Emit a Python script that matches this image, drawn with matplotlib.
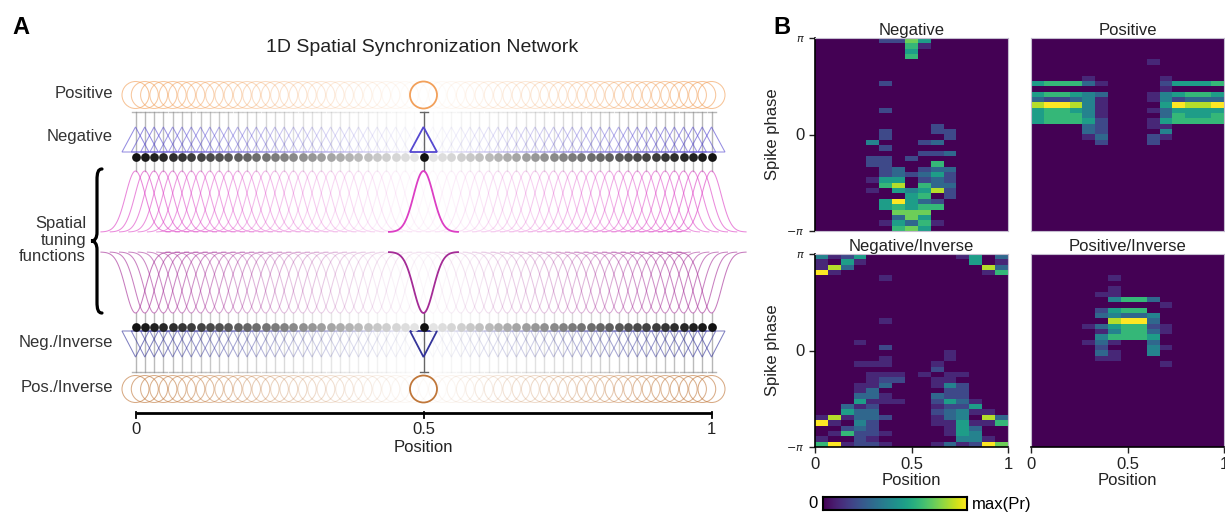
import matplotlib

matplotlib.use("Agg")
import matplotlib.pyplot as plt
import numpy as np
from matplotlib.patches import Ellipse, PathPatch, Polygon
from matplotlib.path import Path

plt.rcParams["font.family"] = ["Liberation Sans", "DejaVu Sans"]

FIG_W, FIG_H = 1225, 512

# ---- panel A: network schematic ----
N_CELLS = 63
CELL_POS = np.linspace(0.0, 1.0, N_CELLS)
FOCUS_POS = 0.5
TUNING_SIGMA = 0.017
TUNING_HALF_SPAN = 0.06
AXIS_TICKS = [0, 0.5, 1]
AXIS_TICK_LABELS = ["0", "0.5", "1"]

POS_COLOR = "#f2a05a"
NEG_COLOR = "#5548d0"
TUNE_COLOR = "#dc3ec4"
INV_TUNE_COLOR = "#a42b96"
NEGINV_COLOR = "#34349a"
POSINV_COLOR = "#c0773a"
STEM_COLOR = "#8a8a8a"

# ---- panel B: spike phase histograms (15 position bins x 36 phase bins, top row = +pi) ----
# digit d -> d/9 of max(Pr), '.' -> 0
NEGATIVE = [
    ".....2275......",
    ".......61......",
    ".......5.......",
    ".......6.......",
    "...............",
    "...............",
    "...............",
    "...............",
    ".....2.........",
    "...............",
    "...............",
    "...............",
    "...............",
    ".....2.........",
    "...............",
    "...............",
    ".........2.....",
    ".....2...22....",
    ".....2....2....",
    "....4...23.....",
    ".....2.........",
    "........223....",
    "....22.2.......",
    "....22...6.....",
    ".....23.233....",
    ".....232352....",
    "....155.232....",
    ".....68.633....",
    "....1.54582....",
    ".......56.2....",
    ".....59532.....",
    ".....56566.....",
    "......777......",
    "......375......",
    ".....15361.....",
    "......675......",
]
POSITIVE = [
    "...............",
    "...............",
    "...............",
    "...............",
    ".........1.....",
    "...............",
    "...............",
    "....1.....1....",
    "566631....25556",
    "..........1....",
    "566543...145665",
    "322341...142333",
    "899841....59889",
    "566541...135555",
    "566641....36556",
    "566652...156666",
    "....32...11....",
    "....32....4....",
    "....13...21....",
    ".....2...2.....",
    "...............",
    "...............",
    "...............",
    "...............",
    "...............",
    "...............",
    "...............",
    "...............",
    "...............",
    "...............",
    "...............",
    "...............",
    "...............",
    "...............",
    "...............",
    "...............",
]
NEG_INVERSE = [
    "4125.......15.3",
    "1.51........5.1",
    "183..........83",
    "91...........16",
    ".....1.........",
    "...............",
    "...............",
    "...............",
    "...............",
    "...............",
    "...............",
    "...............",
    ".....1.........",
    "...............",
    "...............",
    "...............",
    "...1...........",
    ".....2.........",
    "..........1....",
    ".....1....1....",
    "...111...1.....",
    ".........2.....",
    "....111.1.11...",
    "....122..11....",
    "...113...142...",
    "...13.....22...",
    "...331...322...",
    "...5111..2531..",
    "..312....1225..",
    "..533....23411.",
    "181332...134.83",
    "91.42....115116",
    "..232.....153..",
    ".16221....154..",
    "1..21......441.",
    "691221...131297",
]
POS_INVERSE = [
    "...............",
    "...............",
    "...............",
    "...............",
    "......1........",
    "...............",
    "......1........",
    ".....11........",
    "......4663.....",
    "..........1....",
    ".....2566......",
    ".....34334.....",
    "......8993.....",
    "....1356621....",
    ".....146631....",
    ".....46665.....",
    "....131..3.....",
    ".....2...41....",
    ".....31..4.....",
    ".....11........",
    "..........1....",
    "...............",
    "...............",
    "...............",
    "...............",
    "...............",
    "...............",
    "...............",
    "...............",
    "...............",
    "...............",
    "...............",
    "...............",
    "...............",
    "...............",
    "...............",
]
PHASE_TICKS = [-np.pi, 0, np.pi]
PHASE_TICK_LABELS = [r"$-\pi$", "0", r"$\pi$"]
POS_TICKS = [0, 0.5, 1]
POS_TICK_LABELS = ["0", "0.5", "1"]

# pixel mapping for the schematic axes
X0 = 135.5
SCALE = 576.0


def px_rect(left, top, right, bottom):
    return [left / FIG_W, 1 - bottom / FIG_H, (right - left) / FIG_W, (bottom - top) / FIG_H]


def px_x(px):
    return (px - X0) / SCALE


def decode(rows):
    return np.array([[0.0 if ch == "." else int(ch) / 9.0 for ch in row] for row in rows])


def draw_cell(ax, x, a, hl):
    lw = 1.3 if hl else 0.75
    alpha = 1.0 if hl else 0.02 + 0.6 * a
    stem_alpha = 1.0 if hl else 0.02 + 0.6 * a
    stem_col = "#666666" if hl else STEM_COLOR
    d = 27 / SCALE
    hw = 13.5 / SCALE
    cap = 4 / SCALE
    g_lvl = 0.07 if hl else 0.92 - 0.85 * a
    dot_col = (g_lvl, g_lvl, g_lvl)

    ax.add_patch(Ellipse((x, 95), d, 27, fill=False, ec=POS_COLOR, lw=lw, alpha=alpha))
    ax.plot([x, x], [112, 157], color=stem_col, lw=1.0, alpha=stem_alpha, zorder=1)
    ax.plot([x - cap, x + cap], [112, 112], color=stem_col, lw=1.0, alpha=stem_alpha, zorder=1)
    ax.add_patch(Polygon([(x - hw, 152), (x + hw, 152), (x, 127)], closed=True, fill=False,
                         ec=NEG_COLOR, lw=lw, alpha=alpha, zorder=2))
    ax.plot([x, x], [157, 171], color=stem_col, lw=1.0, alpha=stem_alpha, zorder=1)

    xs = np.linspace(x - TUNING_HALF_SPAN, x + TUNING_HALF_SPAN, 90)
    g = np.exp(-((xs - x) ** 2) / (2 * TUNING_SIGMA ** 2))
    ax.plot(xs, 232 - 61 * g, color=TUNE_COLOR, lw=lw, alpha=alpha, zorder=2)
    ax.plot(xs, 252 + 61 * g, color=INV_TUNE_COLOR, lw=lw, alpha=alpha, zorder=2)

    ax.plot([x, x], [313, 372], color=stem_col, lw=1.0, alpha=stem_alpha, zorder=1)
    ax.plot([x - cap, x + cap], [372, 372], color=stem_col, lw=1.0, alpha=stem_alpha, zorder=1)
    ax.add_patch(Polygon([(x - hw, 331), (x + hw, 331), (x, 357)], closed=True, fill=False,
                         ec=NEGINV_COLOR, lw=lw, alpha=alpha, zorder=2))
    ax.add_patch(Ellipse((x, 389), d, 27, fill=False, ec=POSINV_COLOR, lw=lw, alpha=alpha))

    ax.plot([x], [157], "o", ms=6.3, color=dot_col, mec="none", zorder=4)
    ax.plot([x], [327], "o", ms=6.3, color=dot_col, mec="none", zorder=4)


def draw_network(fig):
    ax = fig.add_axes([0, 0, 760 / FIG_W, 1])
    ax.set_xlim(px_x(0), px_x(760))
    ax.set_ylim(FIG_H, 0)
    ax.axis("off")

    for x in CELL_POS:
        if np.isclose(x, FOCUS_POS):
            continue
        draw_cell(ax, x, abs(2 * x - 1), hl=False)
    draw_cell(ax, FOCUS_POS, 1.0, hl=True)

    ax.text(px_x(422), 47, "1D Spatial Synchronization Network", fontsize=14,
            ha="center", va="center", color="#222222")
    lab_x = px_x(113)
    for y, lab in [(94, "Positive"), (137, "Negative"), (343, "Neg./Inverse"), (388, "Pos./Inverse")]:
        ax.text(lab_x, y, lab, fontsize=12, ha="right", va="center", color="#333333")
    ax.text(px_x(86), 240, "Spatial\ntuning\nfunctions", fontsize=12, ha="right", va="center",
            multialignment="right", linespacing=1.1, color="#333333")

    # curly brace
    verts = [(102, 169), (98, 169), (97, 173), (97, 180), (97, 232),
             (97, 238), (95, 241), (91, 241), (95, 241), (97, 244), (97, 250),
             (97, 302), (97, 309), (98, 313), (102, 313)]
    codes = [Path.MOVETO, Path.CURVE4, Path.CURVE4, Path.CURVE4, Path.LINETO,
             Path.CURVE4, Path.CURVE4, Path.CURVE4, Path.CURVE4, Path.CURVE4, Path.CURVE4,
             Path.LINETO, Path.CURVE4, Path.CURVE4, Path.CURVE4]
    verts = [(px_x(vx), vy) for vx, vy in verts]
    ax.add_patch(PathPatch(Path(verts, codes), fill=False, lw=2.3, ec="black", capstyle="round"))

    # position axis
    ax.plot([0, 1], [413, 413], color="black", lw=2.0, solid_capstyle="butt")
    for t, lab in zip(AXIS_TICKS, AXIS_TICK_LABELS):
        ax.plot([t, t], [412, 418], color="black", lw=1.3)
        ax.text(t, 429, lab, fontsize=12, ha="center", va="center", color="#222222")
    ax.text(0.5, 448, "Position", fontsize=12, ha="center", va="center", color="#222222")

    fig.text(21 / FIG_W, 1 - 27 / FIG_H, "A", fontsize=17, fontweight="bold", ha="center", va="center")
    fig.text(782 / FIG_W, 1 - 27 / FIG_H, "B", fontsize=17, fontweight="bold", ha="center", va="center")


def draw_heatmap(fig, rect, rows, title, show_y, show_x):
    ax = fig.add_axes(rect)
    ax.imshow(decode(rows), cmap="viridis", vmin=0, vmax=1, aspect="auto",
              extent=(0, 1, -np.pi, np.pi), interpolation="nearest", origin="upper")
    ax.set_xlim(0, 1)
    ax.set_ylim(-np.pi, np.pi)
    for side in ["top", "right", "left", "bottom"]:
        ax.spines[side].set_color("#c4bccf")
        ax.spines[side].set_linewidth(0.8)
    ax.set_title(title, fontsize=12, pad=1.5, color="#222222")
    ax.tick_params(direction="out", length=4, width=1.0, colors="#222222")

    if show_y:
        ax.spines["left"].set_color("black")
        ax.spines["left"].set_linewidth(1.2)
        ax.set_yticks(PHASE_TICKS)
        ax.set_yticklabels(PHASE_TICK_LABELS)
        for lab, fs in zip(ax.get_yticklabels(), [8, 12, 8]):
            lab.set_fontsize(fs)
        ax.set_ylabel("Spike phase", fontsize=12, color="#222222")
        ax.yaxis.set_label_coords(-0.18, 0.5)
    else:
        ax.set_yticks([])

    if show_x:
        ax.spines["bottom"].set_color("black")
        ax.spines["bottom"].set_linewidth(1.2)
        ax.set_xticks(POS_TICKS)
        ax.set_xticklabels(POS_TICK_LABELS, fontsize=12)
        ax.set_xlabel("Position", fontsize=12, color="#222222")
        ax.xaxis.set_label_coords(0.5, -0.135)
    else:
        ax.set_xticks([])
    return ax


def main() -> None:
    fig = plt.figure(figsize=(FIG_W / 100, FIG_H / 100), dpi=100)

    draw_network(fig)

    draw_heatmap(fig, px_rect(815, 38, 1008, 231), NEGATIVE, "Negative", True, False)
    draw_heatmap(fig, px_rect(1031, 38, 1224, 231), POSITIVE, "Positive", False, False)
    draw_heatmap(fig, px_rect(815, 254, 1008, 447), NEG_INVERSE, "Negative/Inverse", True, True)
    draw_heatmap(fig, px_rect(1031, 254, 1224, 447), POS_INVERSE, "Positive/Inverse", False, True)

    cax = fig.add_axes(px_rect(823, 497, 967, 510))
    cax.imshow(np.linspace(0, 1, 256)[None, :], cmap="viridis", aspect="auto",
               extent=(0, 1, 0, 1))
    cax.set_xticks([])
    cax.set_yticks([])
    for sp in cax.spines.values():
        sp.set_linewidth(1.5)
    fig.text(818 / FIG_W, 1 - 504 / FIG_H, "0", fontsize=12, ha="right", va="center")
    fig.text(972 / FIG_W, 1 - 504 / FIG_H, "max(Pr)", fontsize=12, ha="left", va="center")

    fig.savefig("out.png", dpi=100)
    plt.close(fig)


if __name__ == "__main__":
    main()
